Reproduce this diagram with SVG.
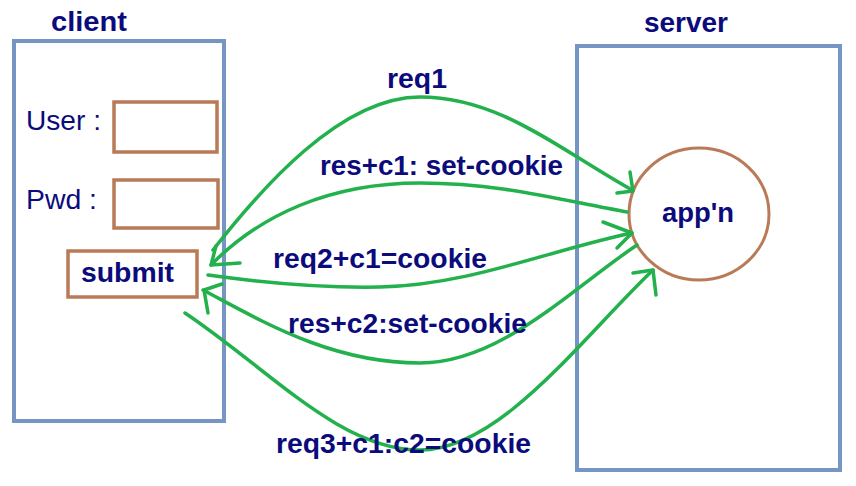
<svg xmlns="http://www.w3.org/2000/svg" width="856" height="486" viewBox="0 0 856 486">
<style>
.box{fill:none;stroke:#7595c4;stroke-width:4}
.field{fill:none;stroke:#b97a57;stroke-width:3.5}
.conn{fill:none;stroke:#22b14c;stroke-width:3.5;stroke-linecap:round;stroke-linejoin:round}
.t{font-family:"Liberation Sans",Arial,sans-serif;fill:#0b0b7c}
.b{font-weight:bold}
</style>
<rect width="856" height="486" fill="#ffffff"/>
<g id="client">
<rect class="box" x="14" y="41" width="210" height="380"/>
<text class="t b" x="51" y="31" font-size="28" textLength="76" lengthAdjust="spacingAndGlyphs">client</text>
</g>
<g id="user-field">
<text class="t" x="26" y="130" font-size="27" textLength="75" lengthAdjust="spacingAndGlyphs">User :</text>
<rect class="field" x="114" y="102" width="103" height="50"/>
</g>
<g id="pwd-field">
<text class="t" x="26" y="209" font-size="27" textLength="71" lengthAdjust="spacingAndGlyphs">Pwd :</text>
<rect class="field" x="114" y="180" width="104" height="48"/>
</g>
<g id="submit">
<rect class="field" x="68" y="251" width="129" height="46"/>
<text class="t b" x="81" y="282" font-size="27" textLength="93" lengthAdjust="spacingAndGlyphs">submit</text>
</g>
<g id="server">
<rect class="box" x="577" y="46" width="263" height="424"/>
<text class="t b" x="644" y="32" font-size="28" textLength="84" lengthAdjust="spacingAndGlyphs">server</text>
</g>
<g id="appn">
<ellipse cx="699" cy="214" rx="70" ry="66" fill="none" stroke="#b97a57" stroke-width="3"/>
<text class="t b" x="662" y="222" font-size="27" textLength="72" lengthAdjust="spacingAndGlyphs">app'n</text>
</g>
<g id="connectors">
<path class="conn" d="M213,250 C260,190 340,97 420,97 C500,97 560,150 632,190"/>
<path class="conn" d="M630,172 L633,191 L617,193"/>
<path class="conn" d="M627,212 C560,200 500,183 420,183 C330,183 260,215 211,265"/>
<path class="conn" d="M240,263 L211,265 L216,246"/>
<path class="conn" d="M208,275 C280,285 330,288 380,287 C470,285 550,250 632,233"/>
<path class="conn" d="M603,222 L632,233 L617,248"/>
<path class="conn" d="M637,245 C570,290 500,363 420,363 C330,363 260,320 203,290"/>
<path class="conn" d="M208,313 L204,290 L222,284"/>
<path class="conn" d="M185,313 C270,370 340,450 420,450 C500,450 580,340 653,270"/>
<path class="conn" d="M633,273 L653,270 L656,295"/>
</g>
<g id="labels">
<text class="t b" x="387" y="88" font-size="28" textLength="60" lengthAdjust="spacingAndGlyphs">req1</text>
<text class="t b" x="320" y="175" font-size="28" textLength="243" lengthAdjust="spacingAndGlyphs">res+c1: set-cookie</text>
<text class="t b" x="273" y="268" font-size="28" textLength="214" lengthAdjust="spacingAndGlyphs">req2+c1=cookie</text>
<text class="t b" x="288" y="333" font-size="28" textLength="239" lengthAdjust="spacingAndGlyphs">res+c2:set-cookie</text>
<text class="t b" x="276" y="453" font-size="28" textLength="255" lengthAdjust="spacingAndGlyphs">req3+c1:c2=cookie</text>
</g>
</svg>
